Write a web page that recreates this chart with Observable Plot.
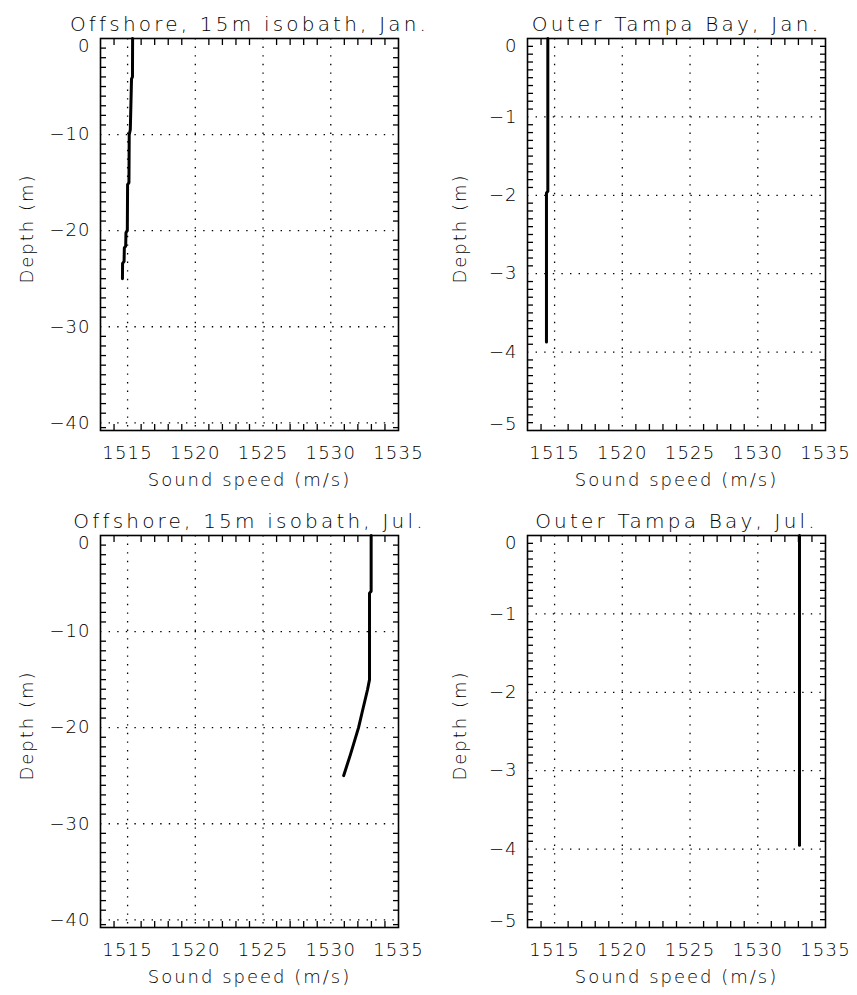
<!DOCTYPE html>
<html><head><meta charset="utf-8">
<script src="https://cdn.jsdelivr.net/npm/d3@7"></script>
<script src="https://cdn.jsdelivr.net/npm/@observablehq/plot@0.6"></script>
<style>
body{margin:0;background:#fff;}
#c{position:relative;width:857px;height:995px;overflow:hidden;background:#fff;}
#c svg{position:absolute;}
#c svg text{font-weight:300;}
</style></head><body><div id="c"></div>
<script>
// ---- text ----
const titles = ["Offshore, 15m isobath, Jan.", "Outer Tampa Bay, Jan.", "Offshore, 15m isobath, Jul.", "Outer Tampa Bay, Jul."];
const xLabel = "Sound speed (m/s)";
const yLabel = "Depth (m)";

// ---- ticks ----
const xMajor = [1515, 1520, 1525, 1530, 1535];
const xGrid = [1515, 1520, 1525, 1530];
const xMinor = [1514, 1516, 1517, 1518, 1519, 1521, 1522, 1523, 1524, 1526, 1527, 1528, 1529, 1531, 1532, 1533, 1534];
const yMajorOff = [-10, -20, -30, -40];
const yTopOff = [0];
const yGridOff = [-10, -20, -30, -40];
const yMinorOff = [-1,-2,-3,-4,-5,-6,-7,-8,-9,-11,-12,-13,-14,-15,-16,-17,-18,-19,-21,-22,-23,-24,-25,-26,-27,-28,-29,-31,-32,-33,-34,-35,-36,-37,-38,-39,-40.5];
const yMajorBay = [-1, -2, -3, -4];
const yTopBay = [0];
const yBottomBay = [-5];
const yGridBay = [-1, -2, -3, -4];
const yMinorBay = [-0.1,-0.2,-0.3,-0.4,-0.5,-0.6,-0.7,-0.8,-0.9,-1.1,-1.2,-1.3,-1.4,-1.5,-1.6,-1.7,-1.8,-1.9,-2.1,-2.2,-2.3,-2.4,-2.5,-2.6,-2.7,-2.8,-2.9,-3.1,-3.2,-3.3,-3.4,-3.5,-3.6,-3.7,-3.8,-3.9,-4.1,-4.2,-4.3,-4.4,-4.5,-4.6,-4.7,-4.8,-4.9];

// ---- data (depth m, sound speed m/s) ----
const offJanDepth = [0, -4, -4.2, -9.5, -10, -15, -15.2, -20, -20.2, -21.6, -21.8, -23.2, -23.4, -25];
const offJanSpeed = [1515.37, 1515.36, 1515.29, 1515.2, 1515.12, 1515.1, 1515.0, 1514.98, 1514.88, 1514.86, 1514.76, 1514.74, 1514.63, 1514.62];
const bayJanDepth = [0, -1.95, -1.97, -3.87];
const bayJanSpeed = [1514.5, 1514.5, 1514.4, 1514.4];
const offJulDepth = [0, -5.8, -6, -15, -16, -18.5, -20, -22.8, -25];
const offJulSpeed = [1532.98, 1532.98, 1532.86, 1532.86, 1532.72, 1532.3, 1532.05, 1531.45, 1530.95];
const bayJulDepth = [0, -3.95];
const bayJulSpeed = [1533.08, 1533.08];

const xDomain = [1513, 1535];
const yDomainOff = [-40.8, 0];
const yDomainBay = [-5, 0];

const fmt = d3.format("d");
const FONT = "DejaVu Sans";

function panel(o) {
  const data = o.depth.map((d, i) => ({depth: d, speed: o.speed[i]}));
  const tickLbl = {anchor: "left", tickSize: 0, tickPadding: 10, label: null, tickFormat: fmt};
  const svg = Plot.plot({
    width: o.width, height: o.height,
    marginTop: o.mt, marginBottom: o.mb, marginLeft: o.ml, marginRight: o.mr,
    style: {fontFamily: FONT, fontSize: "18px", color: "black", background: "white", overflow: "visible"},
    x: {domain: xDomain, label: null},
    y: {domain: o.yDomain, label: null},
    marks: [
      Plot.ruleX(xGrid, {stroke: "black", strokeWidth: 1.3, strokeDasharray: "1.4,7.2"}),
      Plot.ruleY(o.yGrid, {stroke: "black", strokeWidth: 1.3, strokeDasharray: "1.4,7.2"}),
      Plot.axisX(xMinor, {anchor: "bottom", tickSize: -6, fill: "none", label: null, strokeWidth: 1.3}),
      Plot.axisX(xMinor, {anchor: "top", tickSize: -6, fill: "none", label: null, strokeWidth: 1.3}),
      Plot.axisY(o.yMinor, {anchor: "left", tickSize: -6, fill: "none", label: null, strokeWidth: 1.3}),
      Plot.axisY(o.yMinor, {anchor: "right", tickSize: -6, fill: "none", label: null, strokeWidth: 1.3}),
      Plot.axisX(xMajor, {anchor: "bottom", tickSize: 0, tickPadding: 16, label: null, tickFormat: fmt}),
      Plot.axisY(o.yMajor, tickLbl),
      Plot.axisY(o.yTop, {...tickLbl, dy: 8}),
      o.yBottom ? Plot.axisY(o.yBottom, {...tickLbl, dy: -6}) : null,
      Plot.frame({stroke: "black", strokeWidth: 1.6}),
      Plot.line(data, {x: "speed", y: "depth", stroke: "black", strokeWidth: 3}),
      Plot.text([o.title], {frameAnchor: "top", dy: -22, fontSize: 20, fill: "black"}),
      Plot.text([xLabel], {frameAnchor: "bottom", dy: 55, fontSize: 18, fill: "black"}),
      Plot.text([yLabel], {frameAnchor: "left", textAnchor: "middle", dx: o.yLabelDx, dy: -6, rotate: -90, fontSize: 18, fill: "black"})
    ]
  });
  svg.style.left = o.left + "px";
  svg.style.top = o.top + "px";
  d3.select(svg).selectAll('g[aria-label="text"] text').each(function() {
    this.style.letterSpacing = titles.includes(this.textContent) ? "3.2px" : "2px";
  });
  d3.select(svg).selectAll('g[aria-label="x-axis tick label"] text').style("letter-spacing", "1.2px");
  d3.select(svg).selectAll('g[aria-label="y-axis tick label"] text').style("letter-spacing", "1px");
  document.getElementById("c").appendChild(svg);
}

panel({title: titles[0], depth: offJanDepth, speed: offJanSpeed, yDomain: yDomainOff, yMajor: yMajorOff, yTop: yTopOff, yGrid: yGridOff, yMinor: yMinorOff,
  left: 0, top: 0, width: 428, height: 500, mt: 38, mb: 70, ml: 100, mr: 30, yLabelDx: -73});
panel({title: titles[1], depth: bayJanDepth, speed: bayJanSpeed, yDomain: yDomainBay, yMajor: yMajorBay, yTop: yTopBay, yBottom: yBottomBay, yGrid: yGridBay, yMinor: yMinorBay,
  left: 428, top: 0, width: 429, height: 500, mt: 38, mb: 70, ml: 99, mr: 32, yLabelDx: -67});
panel({title: titles[2], depth: offJulDepth, speed: offJulSpeed, yDomain: yDomainOff, yMajor: yMajorOff, yTop: yTopOff, yGrid: yGridOff, yMinor: yMinorOff,
  left: 0, top: 497, width: 428, height: 498, mt: 38, mb: 68, ml: 100, mr: 30, yLabelDx: -73});
panel({title: titles[3], depth: bayJulDepth, speed: bayJulSpeed, yDomain: yDomainBay, yMajor: yMajorBay, yTop: yTopBay, yBottom: yBottomBay, yGrid: yGridBay, yMinor: yMinorBay,
  left: 428, top: 497, width: 429, height: 498, mt: 38, mb: 68, ml: 99, mr: 32, yLabelDx: -67});
</script></body></html>
